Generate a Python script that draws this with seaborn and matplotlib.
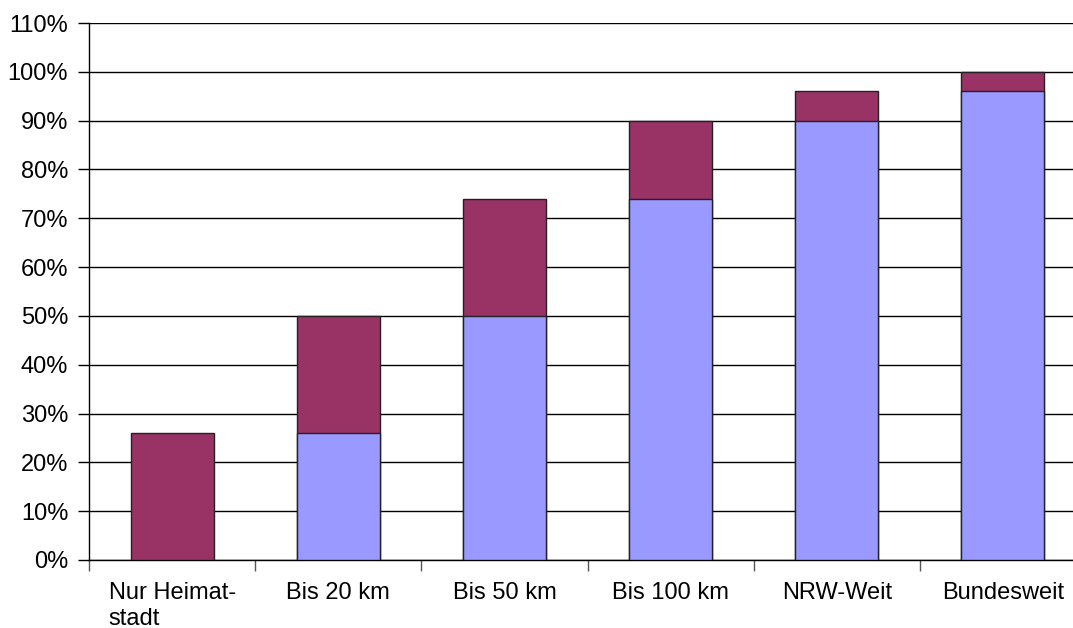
import matplotlib
matplotlib.use("Agg")
import matplotlib.pyplot as plt
import seaborn as sns
import pandas as pd
from matplotlib.ticker import FixedLocator, PercentFormatter

categories = ["Nur Heimat-\nstadt", "Bis 20 km", "Bis 50 km", "Bis 100 km", "NRW-Weit", "Bundesweit"]
base_values = [0, 26, 50, 74, 90, 96]
top_values = [26, 24, 24, 16, 6, 4]
y_ticks = list(range(0, 111, 10))

totals = [b + t for b, t in zip(base_values, top_values)]
df = pd.DataFrame({"cat": categories, "base": base_values, "total": totals})

sns.set_theme(style="white")
plt.rcParams["font.family"] = ["Liberation Sans", "DejaVu Sans"]
plt.rcParams["text.color"] = "black"
plt.rcParams["xtick.color"] = "black"
plt.rcParams["ytick.color"] = "black"

fig = plt.figure(figsize=(10.73, 6.28), dpi=100)
ax = fig.add_axes([89 / 1073, (628 - 560) / 628, 997 / 1073, 537 / 628])

# total height in maroon, lower segment overlaid in lavender
sns.barplot(data=df, x="cat", y="total", color="#993366", saturation=1,
            width=0.5, edgecolor="#222222", linewidth=1, ax=ax, zorder=3)
sns.barplot(data=df[df["base"] > 0], x="cat", y="base", color="#9999FF", saturation=1,
            width=0.5, edgecolor="#222222", linewidth=1, ax=ax, zorder=3,
            order=categories)

ax.set_xlim(-0.5, len(categories) - 0.5)
ax.set_ylim(0, 110)
ax.set_yticks(y_ticks)
ax.yaxis.set_major_formatter(PercentFormatter(decimals=0))
ax.yaxis.grid(True, color="black", linewidth=1)
ax.set_axisbelow(True)
ax.set_xlabel("")
ax.set_ylabel("")

for side in ["top", "right"]:
    ax.spines[side].set_visible(False)
for side in ["left", "bottom"]:
    ax.spines[side].set_color("black")
    ax.spines[side].set_linewidth(1)

ax.tick_params(axis="y", which="major", length=8, width=1, color="black",
               labelsize=17, pad=7, left=True, labelcolor="black")
ax.tick_params(axis="x", which="major", length=0, labelsize=17, pad=16, labelcolor="black")
ax.xaxis.set_minor_locator(FixedLocator([i - 0.5 for i in range(len(categories) + 1)]))
ax.tick_params(axis="x", which="minor", length=8, width=1, color="#555555", bottom=True)
for lbl in ax.get_xticklabels():
    lbl.set_multialignment("left")
    lbl.set_verticalalignment("top")
    lbl.set_linespacing(1.2)

fig.savefig("out.png", dpi=100)
